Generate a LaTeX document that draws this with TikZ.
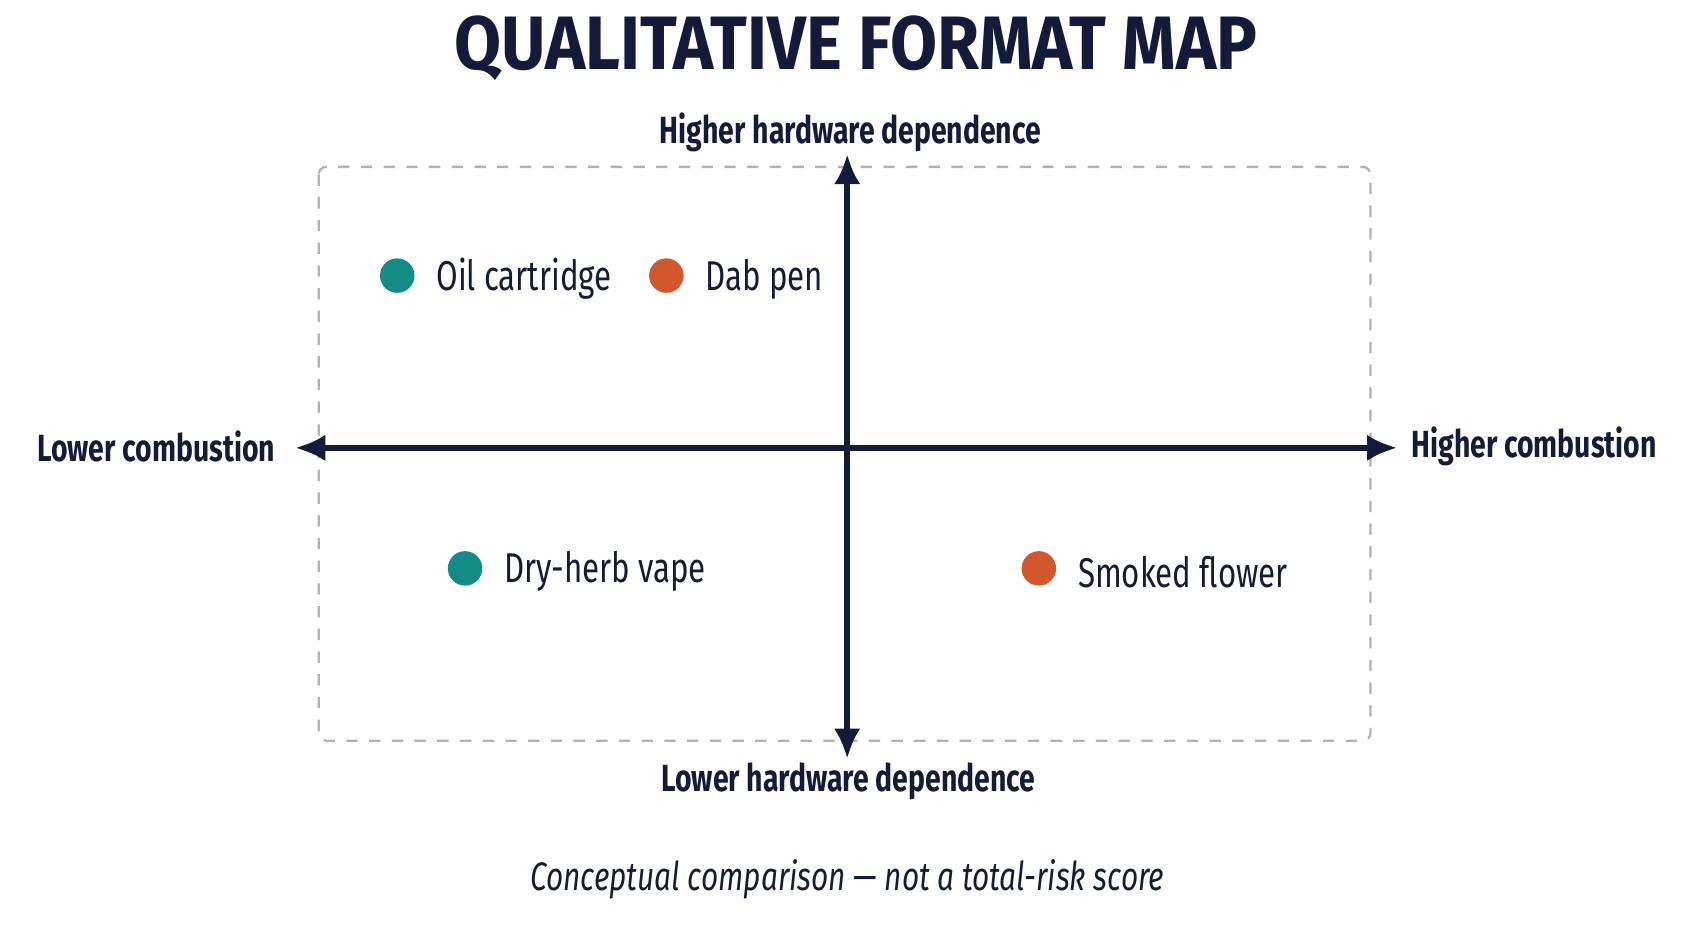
\documentclass[tikz,border=0pt]{standalone}
\usepackage{fontspec}
\setmainfont{Fira Sans}[FakeStretch=0.75]
\newfontfamily\titlefont{Fira Sans}[FakeStretch=0.9]
\usetikzlibrary{arrows.meta}
\definecolor{navy}{HTML}{141B3A}
\definecolor{tealdot}{HTML}{128C84}
\definecolor{orangedot}{HTML}{D0582C}
\tikzset{
  axis/.style={line width=1.6pt, navy, {Latex[length=8pt,width=7pt]}-{Latex[length=8pt,width=7pt]}},
  axlabel/.style={font=\bfseries\fontsize{10}{12}\selectfont, text=navy},
  dot/.style={circle, inner sep=0pt, minimum size=0.32cm},
  item/.style={font=\fontsize{11}{13}\selectfont, text=navy, anchor=west}
}
\begin{document}
\begin{tikzpicture}[x=0.01cm, y=-0.01cm]
    \useasboundingbox (0,0) rectangle (1568,866);

    \node[font=\titlefont\bfseries\fontsize{20}{24}\selectfont, text=navy] (title) at (795,45) {QUALITATIVE FORMAT MAP};

    % quadrant frame
    \draw[gray!60, dashed, line width=0.6pt, rounded corners=2pt] (296,155) rectangle (1273,688);

    \coordinate (top) at (787,143);
    \coordinate (bot) at (787,705);
    \coordinate (lft) at (274,416);
    \coordinate (rgt) at (1298,416);
    \draw[axis] (bot) -- (top);
    \draw[axis] (lft) -- (rgt);

    \node[axlabel] (hhw) at (790,123) {Higher hardware dependence};
    \node[axlabel] (lhw) at (788,726) {Lower hardware dependence};
    \node[axlabel] (lco) at (145,415) {Lower combustion};
    \node[axlabel] (hco) at (1425,415) {Higher combustion};

    % formats
    \foreach \x/\y/\c/\t/\n in {369/256/tealdot/Oil cartridge/oil,
                                619/256/orangedot/Dab pen/dab,
                                432/528/tealdot/Dry-herb vape/dry,
                                965/528/orangedot/Smoked flower/smk} {
      \node[dot, fill=\c] (\n) at (\x,\y) {};
      \node[item] (\n-lbl) at (\x+24,\y+3) {\t};
    }

    \node[font=\itshape\fontsize{10.5}{12}\selectfont, text=navy] (note) at (787,817) {Conceptual comparison — not a total-risk score};
\end{tikzpicture}
\end{document}
